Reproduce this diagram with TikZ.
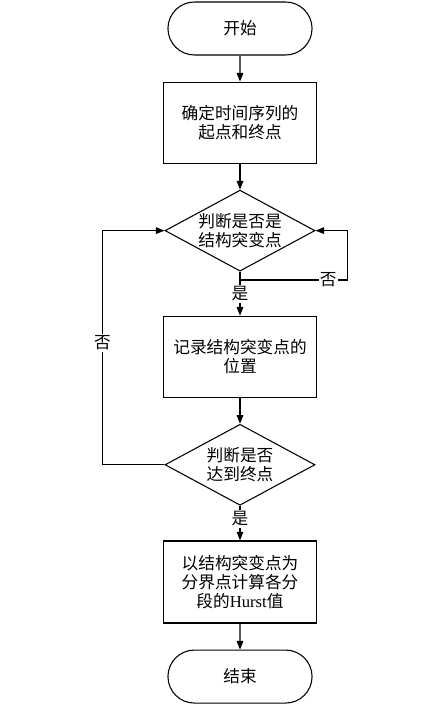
\documentclass[tikz,border=0pt]{standalone}
\usepackage{fontspec}
\setmainfont{Liberation Serif}
\newfontfamily\cjk{Noto Sans CJK SC}
\usetikzlibrary{arrows.meta,positioning,shapes.geometric,shapes.misc}

\begin{document}
\begin{tikzpicture}[x=0.75pt, y=-0.75pt, >={Triangle[length=6.5pt,width=5pt]}, line width=0.8pt,
  font=\cjk\fontsize{12.5}{14}\selectfont,
  terminal/.style={rounded rectangle, draw, minimum width=114.75pt, minimum height=39.75pt},
  process/.style={rectangle, draw, minimum width=114.75pt, minimum height=60.75pt, align=center, inner sep=2pt},
  decision/.style={diamond, draw, minimum width=112.5pt, minimum height=60.75pt, aspect=1.85, inner sep=0pt, align=center},
  branch/.style={fill=white, inner sep=1pt}]
\useasboundingbox (0,0) rectangle (444,705);

\node[terminal] (start) at (240,28.5) {开始};
\node[process, below=19.5pt of start] (range) {确定时间序列的\\起点和终点};
\node[decision, below=19.5pt of range] (isbreak) {判断是否是\\结构突变点};
\node[process, below=33pt of isbreak] (record) {记录结构突变点的\\位置};
\node[decision, below=19.5pt of record] (isend) {判断是否\\达到终点};
\node[process, below=26pt of isend, minimum height=61.5pt] (hurst) {以结构突变点为\\分界点计算各分\\段的{\rmfamily Hurst}值};
\node[terminal, below=19.5pt of hurst] (stop) {结束};

\coordinate (split) at (240,280);

\draw[->] (start) -- (range);
\draw[->] (range) -- (isbreak);
\draw[->] (isbreak) -- (record);
\draw[->] (split) -| node[branch, pos=0.41] (no1) {否} ([xshift=24pt]isbreak.east) -- (isbreak.east);
\draw[->] (record) -- (isend);
\draw[->] (isend.west) -- ++(-62,0) |- node[branch, pos=0.26] (no2) {否} (isbreak.west);
\draw[->] (isend) -- (hurst);
\draw[->] (hurst) -- (stop);

\node[branch] (yes1) at (240,294) {是};
\node[branch] (yes2) at (240,519) {是};
\end{tikzpicture}
\end{document}
